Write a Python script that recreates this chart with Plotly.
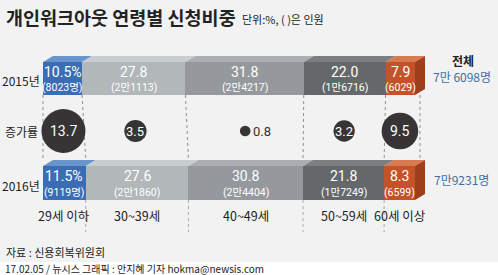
import plotly.graph_objects as go
import numpy as np

# ---- data ----
years = ["2015년", "2016년"]
ages = ["29세 이하", "30~39세", "40~49세", "50~59세", "60세 이상"]
share_2015 = [10.5, 27.8, 31.8, 22.0, 7.9]
share_2016 = [11.5, 27.6, 30.8, 21.8, 8.3]
count_2015 = ["8023명", "2만1113", "2만4217", "1만6716", "6029"]
count_2016 = ["9119명", "2만1860", "2만4404", "1만7249", "6599"]
growth = [13.7, 3.5, 0.8, 3.2, 9.5]
totals = ["7만 6098명", "7만9231명"]
total_title = "전체"
growth_label = "증가률"

# ---- styling / layout ----
W, H = 498, 275
X0PX, X1PX = 43, 415          # pixel position of 0% and 100%
scale = (X1PX - X0PX) / 100.0
xrange = [-X0PX / scale, (W - X0PX) / scale]
Y_BAR = [78.5, 183.0]          # bar centres (pixel rows)
BAR_H = [33, 34]
Y_BUB = 131
DX = 10 / scale                # 3D depth (x, data units)
DY = 6                         # 3D depth (y, px)

front = ["#3a6db4", "#b2b7ba", "#95999d", "#65686b", "#c4532a"]
topc = ["#6a94cc", "#c9cdd0", "#abafb2", "#7c7f82", "#d9794f"]
side_orange = "#9e3f1c"
KR = "Noto Sans CJK KR, Noto Sans, sans-serif"
NUM = "Liberation Sans Narrow, Roboto, Noto Sans CJK KR, sans-serif"

def px(x):
    return x / W

fig = go.Figure()
shares = [share_2015, share_2016]
counts = [count_2015, count_2016]
cums = [np.concatenate([[0], np.cumsum(s)]) for s in shares]

# dotted guide lines (between bars and below 2016)
for k in range(len(ages) + 1):
    xa, xb = cums[0][k], cums[1][k]
    if k == len(ages):
        xa += DX * 0.5
        xb += DX * 0.5
    fig.add_trace(go.Scatter(
        x=[xa, xb], y=[Y_BAR[0] + BAR_H[0] / 2, Y_BAR[1] - BAR_H[1] / 2 - DY],
        mode="lines", line=dict(color="#8f8f8f", width=1, dash="dot"),
        hoverinfo="skip", showlegend=False))
    if 0 < k < len(ages):
        fig.add_trace(go.Scatter(
            x=[xb, xb], y=[Y_BAR[1] + BAR_H[1] / 2, 232],
            mode="lines", line=dict(color="#a8a8a8", width=1, dash="dot"),
            hoverinfo="skip", showlegend=False))

# bars (front faces)
for i, age in enumerate(ages):
    fig.add_trace(go.Bar(
        orientation="h",
        x=[shares[0][i], shares[1][i]],
        base=[cums[0][i], cums[1][i]],
        y=Y_BAR, width=BAR_H,
        marker=dict(color=front[i], line=dict(width=0)),
        name=age, showlegend=False, hoverinfo="skip"))

# 3D top faces and right side
for j in range(2):
    ytop = Y_BAR[j] - BAR_H[j] / 2
    ybot = Y_BAR[j] + BAR_H[j] / 2
    c = cums[j]
    for i in range(len(ages)):
        x0, x1 = c[i], c[i + 1]
        fig.add_trace(go.Scatter(
            x=[x0, x1, x1 + DX, x0 + DX, x0],
            y=[ytop, ytop, ytop - DY, ytop - DY, ytop],
            fill="toself", fillcolor=topc[i], mode="lines",
            line=dict(width=0, color=topc[i]),
            hoverinfo="skip", showlegend=False))
    x1 = c[-1]
    fig.add_trace(go.Scatter(
        x=[x1, x1 + DX, x1 + DX, x1, x1],
        y=[ytop, ytop - DY, ybot - DY, ybot, ytop],
        fill="toself", fillcolor=side_orange, mode="lines",
        line=dict(width=0, color=side_orange),
        hoverinfo="skip", showlegend=False))

# segment labels
ann = []
for j in range(2):
    c = cums[j]
    for i in range(len(ages)):
        xc = (c[i] + c[i + 1]) / 2
        top = f"{shares[j][i]:.1f}" + ("%" if i == 0 else "")
        ann.append(dict(x=xc, y=Y_BAR[j] - 7, text=top, showarrow=False, xanchor="center",
                        font=dict(family=NUM, size=14, color="white")))
        ann.append(dict(x=xc, y=Y_BAR[j] + 9, text=f"({counts[j][i]})", showarrow=False,
                        xanchor="center", font=dict(family=NUM, size=10.5, color="white")))

# growth bubbles
centres = [((cums[0][i] + cums[0][i + 1]) / 2 + (cums[1][i] + cums[1][i + 1]) / 2) / 2
           for i in range(len(ages))]
diam = [44 * np.sqrt(g / max(growth)) for g in growth]
fig.add_trace(go.Scatter(
    x=centres, y=[Y_BUB] * len(growth), mode="markers",
    marker=dict(size=diam, color="#363435", opacity=1, line=dict(width=0)),
    hoverinfo="skip", showlegend=False))
for i, g in enumerate(growth):
    if diam[i] < 16:
        ann.append(dict(x=centres[i], y=Y_BUB, text=f"{g:.1f}", showarrow=False,
                        xanchor="left", xshift=diam[i] / 2 + 1,
                        font=dict(family=NUM, size=13, color="#333333")))
    else:
        ann.append(dict(x=centres[i], y=Y_BUB, text=f"{g:.1f}", showarrow=False,
                        xanchor="center",
                        font=dict(family=NUM, size=14 if diam[i] > 30 else 13, color="white")))

# age labels
for i, age in enumerate(ages):
    xc = (cums[1][i] + cums[1][i + 1]) / 2
    ann.append(dict(x=xc, y=215, text=age, showarrow=False, xanchor="center",
                    font=dict(family=KR, size=12.5, color="#222222")))

# left labels
for lab, yy in [(years[0], Y_BAR[0] + 2), (growth_label, Y_BUB), (years[1], Y_BAR[1] + 2)]:
    ann.append(dict(x=px(21), xref="paper", y=yy, text=lab, showarrow=False, xanchor="center",
                    font=dict(family=KR, size=12, color="#222222")))

# right totals
ann.append(dict(x=px(463), xref="paper", y=60, text=f"<b>{total_title}</b>", showarrow=False,
                xanchor="center", font=dict(family=KR, size=12, color="#222222")))
ann.append(dict(x=px(462), xref="paper", y=76, text=totals[0], showarrow=False,
                xanchor="center", font=dict(family=KR, size=12, color="#3d6ea8")))
ann.append(dict(x=px(461), xref="paper", y=179, text=totals[1], showarrow=False,
                xanchor="center", font=dict(family=KR, size=12, color="#3d6ea8")))

# title & notes
ann.append(dict(x=px(4), xref="paper", y=17, xanchor="left", text="<b>개인워크아웃 연령별 신청비중</b>",
                showarrow=False, font=dict(family=KR, size=18.5, color="#222222")))
ann.append(dict(x=px(240), xref="paper", y=19, xanchor="left", text="단위:%, ( )은 인원",
                showarrow=False, font=dict(family=KR, size=11, color="#222222")))
ann.append(dict(x=px(4), xref="paper", y=252, xanchor="left", text="자료 : 신용회복위원회",
                showarrow=False, font=dict(family=KR, size=11, color="#222222")))
ann.append(dict(x=px(3), xref="paper", y=268, xanchor="left",
                text="17.02.05 / 뉴시스 그래픽 : 안지혜 기자 hokma@newsis.com",
                showarrow=False, font=dict(family=KR, size=10, color="#222222")))

fig.update_layout(
    width=W, height=H, margin=dict(l=0, r=0, t=0, b=0),
    paper_bgcolor="#f2f2f2", plot_bgcolor="rgba(0,0,0,0)",
    barmode="overlay", bargap=0,
    xaxis=dict(range=xrange, domain=[0, 1], visible=False, fixedrange=True),
    yaxis=dict(range=[H, 0], domain=[0, 1], visible=False, fixedrange=True),
    annotations=ann,
    shapes=[dict(type="rect", xref="paper", yref="y", x0=0, x1=1, y0=262, y1=H,
                 fillcolor="white", line=dict(width=0), layer="below")],
)
fig.write_html("out.html")
